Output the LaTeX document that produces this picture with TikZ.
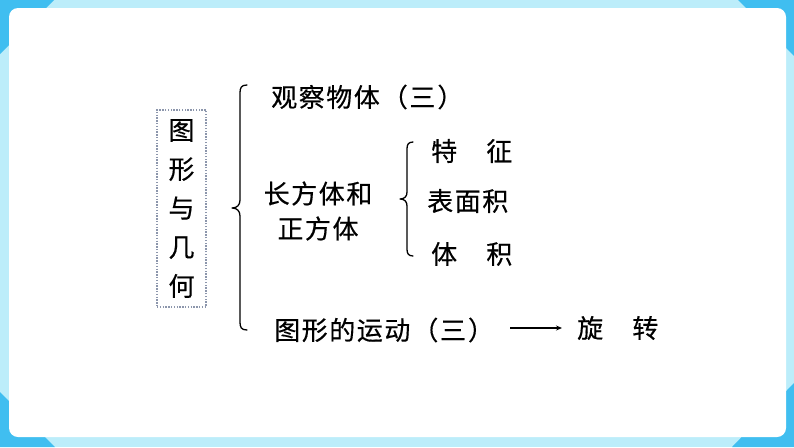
\documentclass[tikz,border=0pt]{standalone}
\usepackage{fontspec}
\newfontfamily\cjk[LetterSpace=6,FakeBold=0.4]{Noto Sans CJK SC}
\newfontfamily\cjkplain[FakeBold=0.4]{Noto Sans CJK SC}
\usetikzlibrary{arrows.meta}
\definecolor{bgblue}{HTML}{BCEDFA}
\definecolor{cornerblue}{HTML}{40BEF0}
\definecolor{dotgray}{HTML}{8C96AC}
\begin{document}
\begin{tikzpicture}[x=1pt,y=-1pt,
  txt/.style={font=\cjk\fontsize{26}{30}\selectfont, inner sep=0pt, anchor=west},
  bracepath/.style={line width=1.3pt, line cap=round, line join=round},
  rootbox/.style={draw=dotgray, line width=1.3pt, dash pattern=on 1.4pt off 1.4pt,
    minimum width=49pt, minimum height=197pt, inner sep=0pt, align=center,
    font=\cjkplain\fontsize{26}{39}\selectfont}]
\useasboundingbox (0,0) rectangle (794,447);
% background
\fill[bgblue] (0,0) rectangle (794,447);
\fill[cornerblue] (0,0) -- (54,0) -- (0,54) -- cycle;
\fill[cornerblue] (794,0) -- (738,0) -- (794,56) -- cycle;
\fill[cornerblue] (0,447) -- (0,392) -- (55,447) -- cycle;
\fill[cornerblue] (794,447) -- (794,383) -- (732,447) -- cycle;
\fill[white, rounded corners=9pt] (9,8) rectangle (786,437);
% root
\node[rootbox] (root) at (181.5,208.5) {图\\形\\与\\几\\何};
% big brace
\coordinate (bt) at (247,85);
\coordinate (bb) at (247,330);
\coordinate (btip) at (232,208);
\draw[bracepath] (bt) .. controls (241,85) and (240,88) .. (240,93) -- (240,200)
  .. controls (240,205) and (237,208) .. (btip)
  .. controls (237,208) and (240,211) .. (240,216) -- (240,322)
  .. controls (240,327) and (241,330) .. (bb);
% level 1
\node[txt] (observe) at (271,97) {观察物体\kern2pt（三\kern2pt）};
\node[txt, anchor=center, align=center, font=\cjk\fontsize{26}{35}\selectfont] (cuboid) at (318,211) {长方体和\\正方体};
\node[txt] (motion) at (274,330) {图形的运动\kern2pt（三\kern2pt）};
% small brace
\coordinate (st) at (413,142);
\coordinate (sb) at (413,256);
\coordinate (stip) at (400,199);
\draw[bracepath] (st) .. controls (408,142) and (407,145) .. (407,149) -- (407,192)
  .. controls (407,196) and (405,199) .. (stip)
  .. controls (405,199) and (407,202) .. (407,206) -- (407,249)
  .. controls (407,253) and (408,256) .. (sb);
% level 2
\node[txt] (feature) at (431,151) {特　征};
\node[txt] (surface) at (427,201) {表面积};
\node[txt] (volume) at (431,254) {体　积};
% rotation
\node[txt] (rotate) at (577,328) {旋　转};
\draw[line width=1.2pt, -{Stealth[length=6pt,width=5pt,inset=2pt]}, shorten <=16pt, shorten >=15pt] (motion.east |- rotate.west) -- (rotate.west);
\end{tikzpicture}
\end{document}
